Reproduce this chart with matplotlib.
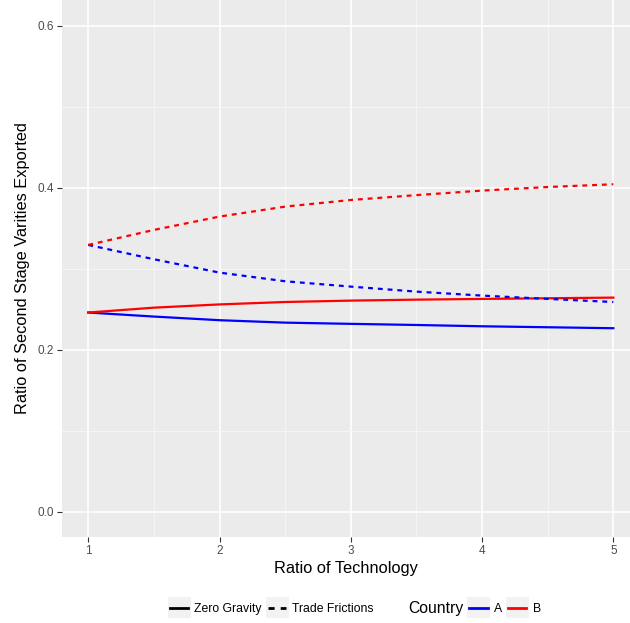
import matplotlib
matplotlib.use("Agg")
import matplotlib.pyplot as plt
from matplotlib.lines import Line2D
from matplotlib.patches import Rectangle

plt.rcParams['font.family'] = ['Liberation Sans', 'DejaVu Sans']

# Data
tech_ratio = [1, 1.5, 2, 2.5, 3, 3.5, 4, 4.5, 5]
a_zero_gravity = [0.246, 0.241, 0.2365, 0.2335, 0.232, 0.2306, 0.229, 0.2278, 0.2266]
b_zero_gravity = [0.246, 0.252, 0.256, 0.259, 0.2607, 0.2619, 0.2628, 0.2636, 0.2644]
a_trade_frictions = [0.3295, 0.3118, 0.2953, 0.2846, 0.278, 0.2718, 0.2669, 0.2628, 0.259]
b_trade_frictions = [0.3295, 0.348, 0.3645, 0.3768, 0.385, 0.391, 0.3966, 0.401, 0.4044]

x_ticks = [1, 2, 3, 4, 5]
y_ticks = [0.0, 0.2, 0.4, 0.6]

blue = '#0000FF'
red = '#FF0000'
dash = (0, (2.2, 2.2))
lw = 1.6

fig = plt.figure(figsize=(6.3, 6.23), dpi=100)
ax = fig.add_axes([62 / 630, 1 - 536.7 / 623, 1 - 62 / 630, 536.7 / 623])
ax.set_facecolor('#EBEBEB')

ax.plot(tech_ratio, a_zero_gravity, color=blue, lw=lw)
ax.plot(tech_ratio, b_zero_gravity, color=red, lw=lw)
ax.plot(tech_ratio, a_trade_frictions, color=blue, lw=lw, linestyle=dash)
ax.plot(tech_ratio, b_trade_frictions, color=red, lw=lw, linestyle=dash)

ax.set_xlim(0.8, 5.127)
ax.set_ylim(-0.0309, 0.632)
ax.set_xticks(x_ticks)
ax.set_xticklabels([str(t) for t in x_ticks])
ax.set_yticks(y_ticks)
ax.set_yticklabels(['%.1f' % t for t in y_ticks])
ax.set_xticks([1.5, 2.5, 3.5, 4.5], minor=True)
ax.set_yticks([0.1, 0.3, 0.5], minor=True)

ax.grid(True, which='major', color='white', lw=1.2)
ax.grid(True, which='minor', color='#F7F7F7', lw=0.6)
ax.set_axisbelow(True)
for s in ax.spines.values():
    s.set_visible(False)
ax.tick_params(which='major', length=3.5, width=0.8, color='#333333',
               labelsize=8.5, labelcolor='#4D4D4D', pad=2.5)
ax.tick_params(which='minor', length=0)

ax.set_xlabel('Ratio of Technology', fontsize=11.8, labelpad=3)
ax.set_ylabel('Ratio of Second Stage Varities Exported', fontsize=11.8, labelpad=5)

# Legends at the bottom
leg_y = 1 - 609 / 623
lt_handles = [Line2D([], [], color='black', lw=2),
              Line2D([], [], color='black', lw=2, linestyle=dash)]
leg1 = fig.legend(lt_handles, ['Zero Gravity', 'Trade Frictions'], ncol=2,
                  loc='center', bbox_to_anchor=(272 / 630, leg_y),
                  frameon=False, fontsize=8.8, handlelength=1.5,
                  handletextpad=0.5, columnspacing=0.5)

fig.text(408 / 630, leg_y, 'Country', fontsize=11.3, ha='left', va='center')
c_handles = [Line2D([], [], color=blue, lw=2),
             Line2D([], [], color=red, lw=2)]
leg2 = fig.legend(c_handles, ['A', 'B'], ncol=2,
                  loc='center', bbox_to_anchor=(505 / 630, leg_y),
                  frameon=False, fontsize=8.8, handlelength=1.5,
                  handletextpad=0.5, columnspacing=0.5)

# grey key backgrounds behind the legend lines
fig.canvas.draw()
renderer = fig.canvas.get_renderer()
for leg in (leg1, leg2):
    for h in leg.legend_handles:
        bb = h.get_window_extent(renderer)
        cx = (bb.x0 + bb.x1) / 2
        cy = (bb.y0 + bb.y1) / 2
        box = Rectangle(((cx - 11.5) / 630, (cy - 10.5) / 623), 23 / 630, 21 / 623,
                        transform=fig.transFigure, facecolor='#F2F2F2',
                        edgecolor='none', zorder=0)
        fig.patches.append(box)

fig.savefig('out.png', dpi=100)
